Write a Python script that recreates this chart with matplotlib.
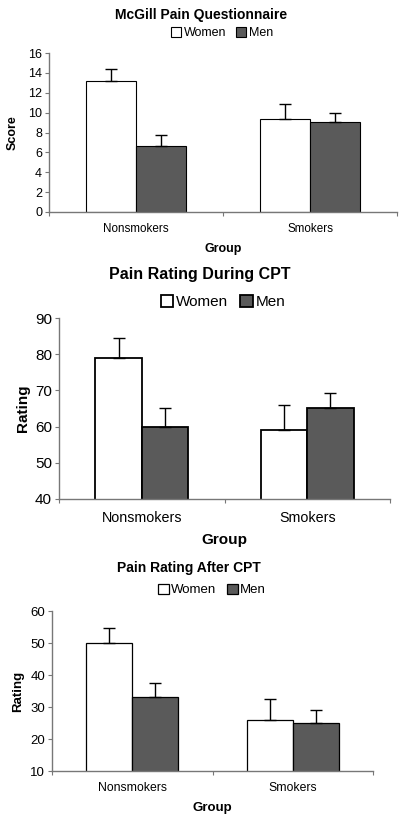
import numpy as np
import matplotlib.pyplot as plt

plt.rcParams.update({
    'font.family': 'Liberation Sans',
    'axes.linewidth': 1.0,
    'axes.edgecolor': '#777777',
})

groups = ['Nonsmokers', 'Smokers']
series = ['Women', 'Men']

mcgill_women = [13.2, 9.4]
mcgill_men = [6.6, 9.1]
mcgill_women_err = [1.2, 1.5]
mcgill_men_err = [1.1, 0.9]

during_women = [79, 59]
during_men = [60, 65]
during_women_err = [5.5, 7.0]
during_men_err = [5.0, 4.3]

after_women = [50, 26]
after_men = [33, 25]
after_women_err = [4.8, 6.5]
after_men_err = [4.5, 4.0]

W, H = 407, 826
fig = plt.figure(figsize=(W / 100, H / 100), dpi=100)


def px_axes(left, top, right, bottom):
    return fig.add_axes([left / W, 1 - bottom / H, (right - left) / W, (bottom - top) / H])


def draw(ax, women, men, werr, merr, ylim, step, width, fs, lw_bar, title, title_fs,
         title_xy, leg_xy, ylabel, ylab_x, group_y, tick_y):
    x = np.arange(len(groups))
    ekw = dict(ecolor='black', elinewidth=1.0, capsize=4.5, capthick=1.0)
    ax.bar(x - width / 2, women, width, color='white', edgecolor='black', lw=lw_bar,
           yerr=[np.zeros(2), werr], error_kw=ekw, label=series[0], zorder=2)
    ax.bar(x + width / 2, men, width, color='#5a5a5a', edgecolor='black', lw=lw_bar,
           yerr=[np.zeros(2), merr], error_kw=ekw, label=series[1], zorder=2)
    ax.set_xlim(-0.5, 1.5)
    ax.set_ylim(*ylim)
    ax.set_yticks(np.arange(ylim[0], ylim[1] + 0.1, step))
    ax.spines['top'].set_visible(False)
    ax.spines['right'].set_visible(False)
    ax.tick_params(axis='y', direction='out', length=3, color='#777777', labelsize=fs, pad=2)
    # category boundary ticks like the original spreadsheet chart
    ax.set_xticks([-0.5, 0.5, 1.5])
    ax.set_xticklabels([])
    ax.tick_params(axis='x', direction='out', length=3, color='#777777')
    pos = ax.get_position()
    for xi, g in zip(x, groups):
        fig.text(pos.x0 + (xi + 0.5) / 2 * pos.width, 1 - tick_y / H,
                 g, ha='center', va='center', fontsize=fs * 0.93)
    fig.text(pos.x0 + pos.width / 2, 1 - group_y / H, 'Group',
             ha='center', va='center', fontsize=fs, fontweight='bold')
    fig.text(ylab_x / W, pos.y0 + pos.height / 2, ylabel,
             rotation=90, ha='center', va='center', fontsize=fs, fontweight='bold')
    fig.text(title_xy[0] / W, 1 - title_xy[1] / H, title, ha='center', va='center',
             fontsize=title_fs, fontweight='bold')
    ax.legend(loc='center', bbox_to_anchor=(leg_xy[0] / W, 1 - leg_xy[1] / H),
              bbox_transform=fig.transFigure, ncol=2,
              frameon=False, fontsize=fs, handlelength=0.8, handleheight=0.8,
              handletextpad=0.2, columnspacing=0.8, borderpad=0)


ax1 = px_axes(49, 53, 397, 212)
draw(ax1, mcgill_women, mcgill_men, mcgill_women_err, mcgill_men_err, (0, 16), 2, 0.29,
     9, 0.8, 'McGill Pain Questionnaire', 10, (201, 15), (222, 33), 'Score', 13, 249, 229)

ax2 = px_axes(59, 318, 390, 499)
draw(ax2, during_women, during_men, during_women_err, during_men_err, (40, 90), 10, 0.28,
     11, 1.3, 'Pain Rating During CPT', 11.5, (200, 275), (223, 302), 'Rating', 23, 540, 518)

ax3 = px_axes(52, 611, 373, 771)
draw(ax3, after_women, after_men, after_women_err, after_men_err, (10, 60), 10, 0.287,
     9.5, 0.9, 'Pain Rating After CPT', 10, (189, 568), (212, 590), 'Rating', 18, 808, 788)

fig.savefig('out.png', dpi=100)
